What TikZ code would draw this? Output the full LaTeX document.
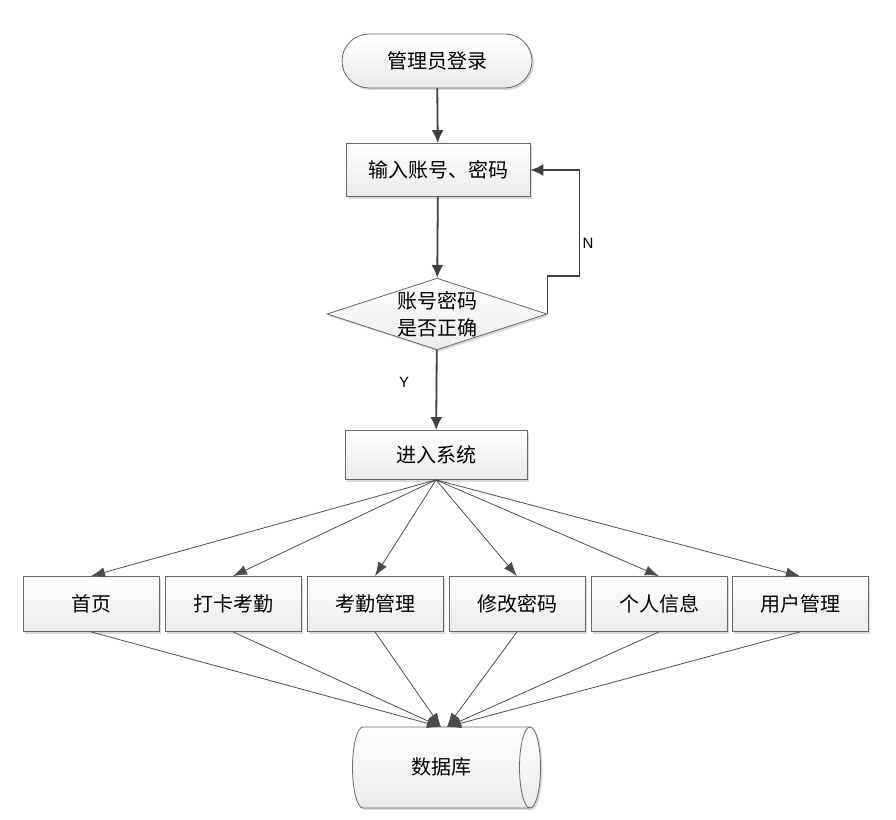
\documentclass[tikz,border=0pt]{standalone}
\usepackage{fontspec}
\newfontfamily\cjk{Noto Sans CJK SC}
\newfontfamily\latn{Liberation Sans}
\usetikzlibrary{arrows.meta,shapes.geometric,shapes.misc,shadows}

\begin{document}
\begin{tikzpicture}[
		x=1pt,y=-1pt,
		base/.style={draw=black!60,line width=0.8pt,top color=white,bottom color=black!8,
			drop shadow={shadow xshift=2pt,shadow yshift=-2pt,fill=black!25,opacity=0.6},
			font=\cjk\fontsize{20}{27}\selectfont,inner sep=0pt},
		startbox/.style={base,rounded rectangle,minimum width=190pt,minimum height=54pt},
		procbox/.style={base,rectangle,minimum width=184pt,minimum height=53pt},
		modbox/.style={base,rectangle,minimum width=136pt,minimum height=55pt},
		decbox/.style={base,diamond,aspect=3.07,align=center},
		dbtext/.style={font=\cjk\fontsize{20}{27}\selectfont,inner sep=0pt},
		dbline/.style={draw=black!60,line width=0.8pt},
		mainarrow/.style={draw=black!75,line width=1.8pt,-{Latex[length=13pt,width=12pt]}},
		fanarrow/.style={draw=black!70,line width=0.8pt,-{Latex[length=14pt,width=10pt]}},
		yn/.style={font=\latn\fontsize{15}{17}\selectfont}]
	\useasboundingbox (0,0) rectangle (896,819);
	%% define database drum
	\fill[black!25,opacity=0.6] (365,729) -- (532,729) arc (-90:90:10.5 and 40.5) -- (365,810) arc (90:270:10.5 and 40.5) -- cycle;
	\shade[dbline,top color=white,bottom color=black!8] (363,727) -- (530,727) arc (-90:90:10.5 and 40.5) -- (363,808) arc (90:270:10.5 and 40.5) -- cycle;
	\draw[dbline] (530,727) arc (270:90:10.5 and 40.5);
	%% define nodes
	\node (start) at (437,61) [startbox] {管理员登录};
	\node (inp) at (438,170) [procbox] {输入账号、密码};
	\node (chk) at (437,314) [decbox] {账号密码\\是否正确};
	\node (sys) at (436,455) [procbox,minimum width=182pt,minimum height=49pt] {进入系统};
	\node (m1) at (91,604) [modbox] {首页};
	\node (m2) at (233,604) [modbox] {打卡考勤};
	\node (m3) at (375,604) [modbox] {考勤管理};
	\node (m4) at (517,604) [modbox] {修改密码};
	\node (m5) at (659,604) [modbox] {个人信息};
	\node (m6) at (800,604) [modbox] {用户管理};
	\node (db) at (441,767) [dbtext] {数据库};
	\coordinate (dbl) at (441,727);
	\coordinate (dbr) at (447,727);
	%% define arrows
	\draw[mainarrow] (start) -- (inp);
	\draw[mainarrow] (inp) -- (chk);
	\draw[mainarrow] (chk.east) -- ++(0,-38) -| ([xshift=49pt]inp.east) -- (inp.east);
	\node[yn] (nlab) at (588,243) {N};
	\draw[mainarrow] (chk) -- (sys);
	\node[yn] (ylab) at (404,382) {Y};
	\foreach \m in {m1,m2,m3,m4,m5,m6}
		\draw[fanarrow] (sys.south) -- (\m.north);
	\foreach \m in {m1,m2,m3}
		\draw[fanarrow] (\m.south) -- (dbl);
	\foreach \m in {m4,m5,m6}
		\draw[fanarrow] (\m.south) -- (dbr);
\end{tikzpicture}
\end{document}
